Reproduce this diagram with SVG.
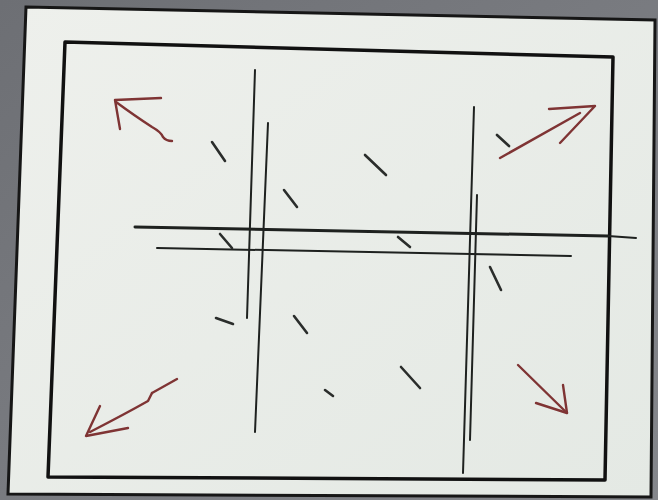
<svg xmlns="http://www.w3.org/2000/svg" width="658" height="500" viewBox="0 0 658 500">
<defs>
<linearGradient id="bg" x1="0" y1="0" x2="1" y2="1">
<stop offset="0" stop-color="#6d6f74"/>
<stop offset="1" stop-color="#85878c"/>
</linearGradient>
<linearGradient id="paper" x1="0" y1="0" x2="1" y2="1">
<stop offset="0" stop-color="#eef0ec"/>
<stop offset="1" stop-color="#e4e9e4"/>
</linearGradient>
</defs>
<style>
.frame{fill:none;stroke:#111;stroke-width:3.5;stroke-linejoin:round}
.ln{fill:none;stroke:#1e211f;stroke-width:2;stroke-linecap:round}
.thick{stroke-width:3}
.tick{fill:none;stroke:#2a2d2b;stroke-width:2.6;stroke-linecap:round}
.arrow{fill:none;stroke:#7f3434;stroke-width:2.4;stroke-linecap:round;stroke-linejoin:round}
</style>
<rect x="0" y="0" width="658" height="500" fill="url(#bg)"/>
<polygon points="26,7 655,20 651,497 8,494" fill="url(#paper)" stroke="#161616" stroke-width="3"/>
<g id="frame">
<polygon class="frame" points="65,42 613,57 605,480 48,477"/>
</g>
<g id="grid">
<line class="ln" x1="255" y1="70" x2="247" y2="318"/>
<line class="ln" x1="268" y1="123" x2="255" y2="432"/>
<line class="ln" x1="474" y1="107" x2="463" y2="473"/>
<line class="ln" x1="477" y1="195" x2="470" y2="440"/>
<line class="ln thick" x1="135" y1="227" x2="608" y2="236"/>
<line class="ln" x1="608" y1="236" x2="636" y2="238" stroke-width="1.2" stroke="#555"/>
<line class="ln" x1="157" y1="248" x2="571" y2="256"/>
</g>
<g id="ticks">
<line class="tick" x1="212" y1="142" x2="225" y2="161"/>
<line class="tick" x1="284" y1="190" x2="297" y2="207"/>
<line class="tick" x1="220" y1="234" x2="232" y2="248"/>
<line class="tick" x1="365" y1="155" x2="386" y2="175"/>
<line class="tick" x1="497" y1="135" x2="509" y2="146" stroke-width="2"/>
<line class="tick" x1="398" y1="237" x2="410" y2="247"/>
<line class="tick" x1="490" y1="267" x2="501" y2="290" stroke-width="2"/>
<line class="tick" x1="216" y1="318" x2="233" y2="324"/>
<line class="tick" x1="294" y1="316" x2="307" y2="333" stroke="#6a6e6b"/>
<line class="tick" x1="401" y1="367" x2="420" y2="388" stroke-width="2"/>
<line class="tick" x1="325" y1="390" x2="333" y2="396"/>
</g>
<g id="arrows">
<path class="arrow" d="M161,98 L115,100 L120,129"/>
<path class="arrow" d="M116,102 Q135,116 152,127 Q161,132 163,137 Q166,141 172,141"/>
<path class="arrow" d="M549,109 L595,106 L560,143"/>
<path class="arrow" d="M500,158 L580,113"/>
<path class="arrow" d="M100,406 L86,436 L128,428"/>
<path class="arrow" d="M90,432 Q125,414 148,401 L152,393"/>
<path class="arrow" d="M152,393 L177,379" stroke="#b89a9a" stroke-width="1.8"/>
<path class="arrow" d="M518,365 L567,413"/>
<path class="arrow" d="M563,385 L567,413 L536,403"/>
</g>
</svg>
